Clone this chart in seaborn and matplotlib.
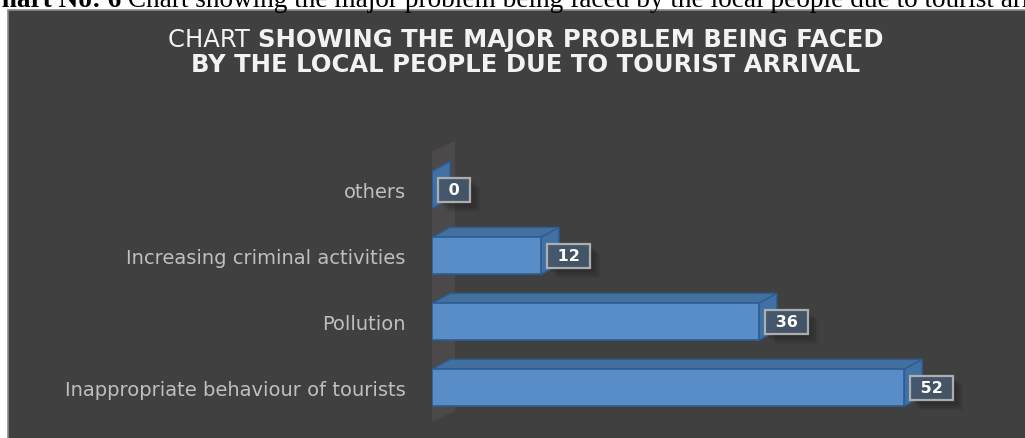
import numpy as np
import pandas as pd
import seaborn as sns
import matplotlib.pyplot as plt
from matplotlib.patches import Polygon, Rectangle
from matplotlib import patheffects as pe

# ---- data -------------------------------------------------------------
categories = [
    "others",
    "Increasing criminal activities",
    "Pollution",
    "Inappropriate behaviour of tourists",
]
respondents = [0, 12, 36, 52]

caption_bold = "Chart No: 6"
caption_text = " Chart showing the major problem being faced by the local people due to tourist arrival"
title_word = "CHART "
title_line1 = "SHOWING THE MAJOR PROBLEM BEING FACED"
title_line2 = "BY THE LOCAL PEOPLE DUE TO TOURIST ARRIVAL"

df = pd.DataFrame({"problem": categories, "respondents": respondents})

# ---- style ------------------------------------------------------------
sns.set_theme(style="white")
plt.rcParams["font.family"] = ["DejaVu Sans"]

W, H = 1025, 439
fig = plt.figure(figsize=(W / 100, H / 100), dpi=100, facecolor="white")

PANEL = "#404040"
FRONT = "#588dc7"
TOP = "#44709f"
SIDE = "#4070a4"
EDGE = "#2c5d91"
WALL = "#4b4949"

# dark chart area
fig.patches.append(Rectangle((8 / W, -0.01), 1.0, (H - 11) / H + 0.01,
                             transform=fig.transFigure, facecolor=PANEL,
                             edgecolor="#8a8a8a", lw=1.2, zorder=-10))

# caption line above the chart area (partly clipped by the page edge)
cap_y = 1 - 7 / H
t_b = fig.text(-18 / W, cap_y, caption_bold, family="Liberation Serif",
               fontweight="bold", fontsize=19.6, color="black", va="baseline", ha="left")
fig.canvas.draw()
r = fig.canvas.get_renderer()
bb = t_b.get_window_extent(r)
fig.text(bb.x1 / W, cap_y, caption_text, family="Liberation Serif",
         fontsize=19.6, color="black", va="baseline", ha="left")

# ---- bars -------------------------------------------------------------
x_left_px, px_per_unit = 432, 9.08
xmax = 60
ax = fig.add_axes([x_left_px / W, 1 - 435 / H, xmax * px_per_unit / W, (435 - 131.6) / H])
ax.set_zorder(1)
sns.barplot(data=df, y="problem", x="respondents", order=categories, orient="h",
            width=0.56, color=FRONT, saturation=1, edgecolor=EDGE, linewidth=1.2,
            ax=ax, zorder=3)
ax.set_xlim(0, xmax)
ax.set_ylim(3.7, -0.9)
ax.patch.set_alpha(0)
for s in ax.spines.values():
    s.set_visible(False)
ax.xaxis.set_visible(False)
ax.set_ylabel("")
ax.tick_params(axis="y", length=0, pad=19, labelsize=14, labelcolor="#bfbfbf")

fig.canvas.draw()
to_data = ax.transData.inverted()
DX, DY = 18, 10  # depth offset of the 3D faces, pixels


def poly(points_disp, **kw):
    pts = to_data.transform(np.asarray(points_disp))
    ax.add_patch(Polygon(pts, closed=True, **kw))


bars = [p for p in ax.patches if isinstance(p, Rectangle)]

# floor wall behind the category axis
ys = ax.transData.transform([(0, -0.55), (0, 3.55)])
x0d = ys[0][0] - 5
poly([(x0d, ys[0][1]), (x0d + 28, ys[0][1] + 13), (x0d + 28, ys[1][1] + 13), (x0d, ys[1][1])],
     facecolor=WALL, edgecolor="none", zorder=1)

for bar in bars:
    x0, y0 = bar.get_x(), bar.get_y()
    w, h = bar.get_width(), bar.get_height()
    (ax0, ay0), (ax1, ay1) = ax.transData.transform([(x0, y0), (x0 + w, y0 + h)])
    top, bot = max(ay0, ay1), min(ay0, ay1)
    left, right = min(ax0, ax1), max(ax0, ax1)
    # top face
    poly([(left, top), (right, top), (right + DX, top + DY), (left + DX, top + DY)],
         facecolor=TOP, edgecolor=EDGE, lw=1.0, zorder=2.5)
    # side face
    poly([(right, top), (right, bot), (right + DX, bot + DY), (right + DX, top + DY)],
         facecolor=SIDE, edgecolor=EDGE, lw=1.0, zorder=2.6)

# value labels with a soft drop shadow
soft_shadow = [pe.SimplePatchShadow(offset=(k, -k), shadow_rgbFace="black", alpha=0.07)
               for k in (7, 5.5, 4, 2.5)] + [pe.Normal()]
for i, v in enumerate(respondents):
    t = ax.annotate(f" {v} ", xy=(v, i), xytext=(7.8, 0), textcoords="offset points",
                    ha="left", va="center", color="white", fontsize=11.5, fontweight="bold",
                    bbox=dict(boxstyle="square,pad=0.3", facecolor="#46576b",
                              edgecolor="#b4b4b4", lw=1.6, alpha=0.95),
                    zorder=5)
    t.get_bbox_patch().set_path_effects(soft_shadow)

# ---- title ------------------------------------------------------------
cx = 526 / W
y1 = 1 - 46.7 / H
y2 = 1 - 72 / H
tsize = 17.5
ta = fig.text(0, y1, title_word, fontsize=tsize, color="#f2f2f2", va="baseline", ha="left")
tb = fig.text(0, y1, title_line1, fontsize=tsize, color="#f2f2f2", fontweight="bold",
              va="baseline", ha="left")
fig.canvas.draw()
wa = ta.get_window_extent(r).width
wb = tb.get_window_extent(r).width
start = cx * W - (wa + wb) / 2
ta.set_x(start / W)
tb.set_x((start + wa) / W)
fig.text(cx, y2, title_line2, fontsize=tsize, color="#f2f2f2", fontweight="bold",
         va="baseline", ha="center")

fig.savefig("out.png", dpi=100, facecolor="white")
